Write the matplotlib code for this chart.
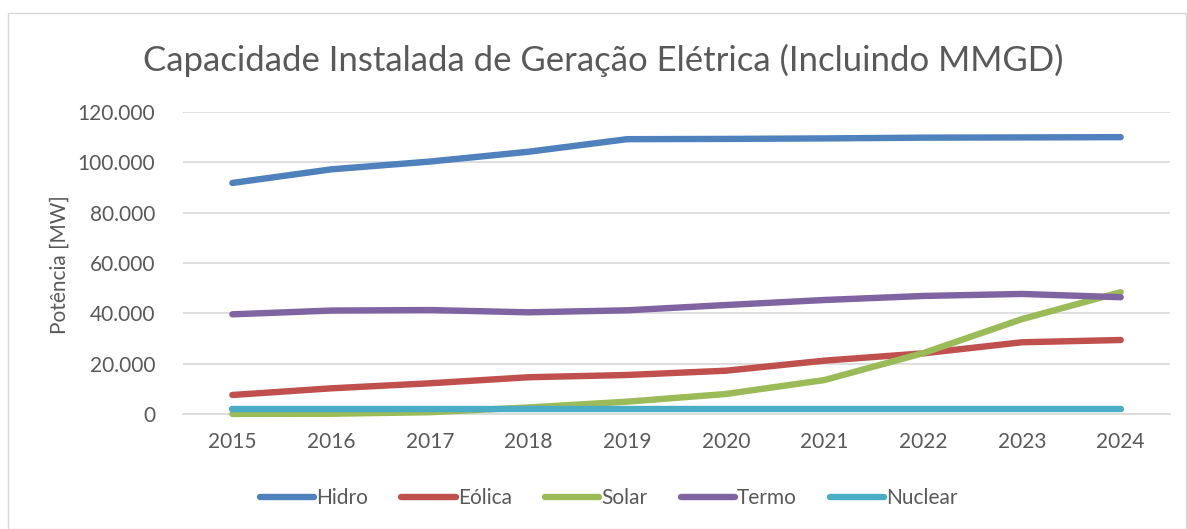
import matplotlib.pyplot as plt
from matplotlib.patches import Rectangle
from matplotlib.ticker import FuncFormatter

plt.rcParams['font.family'] = ['Lato', 'DejaVu Sans']

anos = [2015, 2016, 2017, 2018, 2019, 2020, 2021, 2022, 2023, 2024]
hidro = [91800, 97200, 100300, 104200, 109200, 109300, 109500, 109800, 109900, 110000]
eolica = [7550, 10200, 12200, 14600, 15500, 17200, 21200, 24100, 28500, 29400]
solar = [20, 100, 700, 2600, 4900, 7950, 13500, 24200, 37700, 48400]
termo = [39600, 41100, 41300, 40400, 41200, 43300, 45300, 46900, 47700, 46400]
nuclear = [1990, 1990, 1990, 1990, 1990, 1990, 1990, 1990, 1990, 1990]

series = [('Hidro', hidro, '#4F81BD'),
          ('Eólica', eolica, '#C0504D'),
          ('Solar', solar, '#9BBB59'),
          ('Termo', termo, '#8064A2'),
          ('Nuclear', nuclear, '#4BACC6')]

txt = '#595959'

fig = plt.figure(figsize=(11.87, 5.29), dpi=100)
fig.patches.append(Rectangle((8 / 1187, 0), 1 - 9 / 1187, 1 - 13 / 529, transform=fig.transFigure,
                             fill=False, edgecolor='#d9d9d9', lw=1))

ax = fig.add_axes([0.1542, 0.2174, 0.8315, 0.5709])
for name, vals, c in series:
    ax.plot(anos, vals, color=c, lw=4.6, label=name, solid_capstyle='round',
            solid_joinstyle='round', clip_on=False, zorder=3)

ax.set_xlim(2014.5, 2024.5)
ax.set_ylim(0, 120000)
ax.set_yticks(range(0, 120001, 20000))
ax.set_xticks(anos)
ax.yaxis.set_major_formatter(FuncFormatter(lambda v, p: '{:,.0f}'.format(v).replace(',', '.')))
ax.grid(axis='y', color='#d9d9d9', lw=1.2)
ax.set_axisbelow(True)
for s in ['top', 'right', 'left']:
    ax.spines[s].set_visible(False)
ax.spines['bottom'].set_color('#d9d9d9')
ax.spines['bottom'].set_linewidth(1.2)
ax.spines['bottom'].set_zorder(1)
ax.tick_params(length=0, labelsize=15, labelcolor=txt)
ax.tick_params(axis='x', pad=13)
ax.tick_params(axis='y', pad=20)

fig.text(0.508, 0.886, 'Capacidade Instalada de Geração Elétrica (Incluindo MMGD)',
         ha='center', va='center', fontsize=25, color=txt)
fig.text(0.0505, 0.5, 'Potência [MW]', rotation=90, ha='center', va='center', fontsize=15, color=txt)

fig.legend(loc='center', bbox_to_anchor=(0.513, 0.0586), ncol=5, frameon=False, fontsize=15,
           handlelength=2.6, handletextpad=0.1, columnspacing=1.6, labelcolor=txt)

fig.savefig('out.png', dpi=100)
